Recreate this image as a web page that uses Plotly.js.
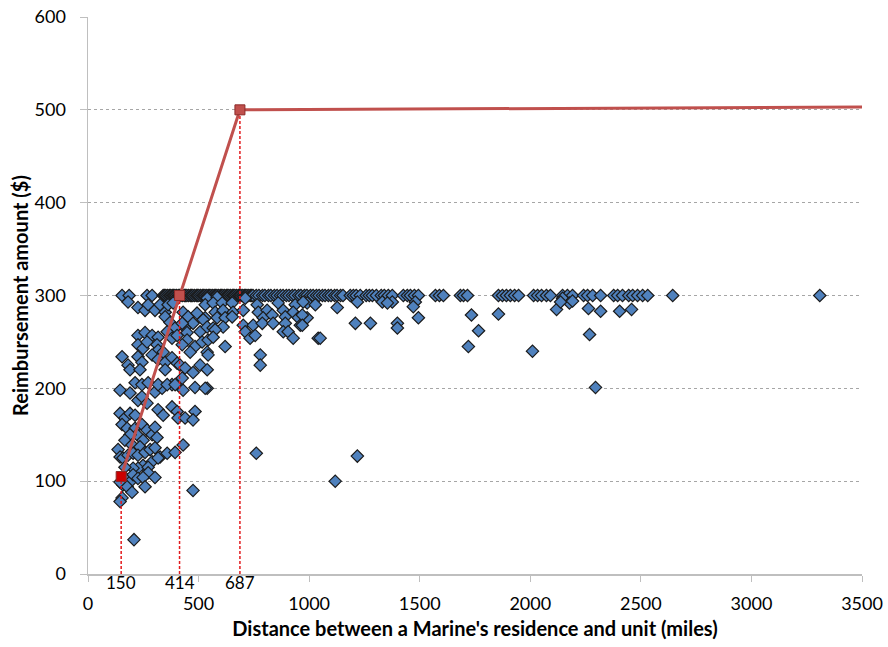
<!DOCTYPE html>
<html>
<head>
<meta charset="utf-8">
<script src="https://cdn.plot.ly/plotly-3.0.1.min.js"></script>
<style>html,body{margin:0;padding:0;background:#fff;}#chart{width:888px;height:647px;}</style>
</head>
<body>
<div id="chart"></div>
<script>
// Points that hit the $300 cap
const capDist = [154, 186, 267, 290,
  340, 346, 352, 360, 368, 374, 381, 387, 393, 400, 408, 414, 420, 428, 436, 441, 447, 455, 463, 468,
  474, 482, 490, 495, 501, 509, 517, 523, 529, 537, 544, 550, 556, 564, 571, 577, 583, 591, 599, 604,
  610, 618, 626, 631, 637, 645, 653, 658, 664, 672, 680, 686, 692, 700, 707, 713, 719, 727, 734, 740,
  746, 761, 773, 789, 800, 816, 827, 843, 855, 870,
  882, 897, 909, 924, 936, 952, 963, 979, 990, 1006, 1018, 1033, 1045, 1060, 1072, 1087, 1099, 1115,
  1126, 1142, 1153, 1186, 1200, 1213, 1231, 1258, 1272, 1286, 1304, 1326, 1340, 1358, 1376, 1426, 1444,
  1458, 1476, 1494, 1571, 1589, 1607, 1684, 1698, 1716, 1856, 1874, 1892, 1910, 1929, 1947, 2015, 2033,
  2051, 2073, 2091, 2146, 2168, 2191, 2241, 2259, 2282, 2318, 2377, 2395, 2417, 2445, 2463, 2485, 2508,
  2531, 2644, 3309];
const capAmt = capDist.map(() => 300);

// Points below the cap
const belowDist = [
  145, 167, 190, 213, 226, 244, 267, 303, 335, 380, 430, 539, 317, 340, 380, 403, 407, 439, 484, 475,
  154, 177, 213, 244, 267, 290, 303, 312, 222, 190, 167, 249, 199, 235, 136, 145, 158, 181, 204, 226,
  258, 281, 303, 326, 358, 394, 430, 290, 249, 226, 204, 167, 272, 317, 272, 167, 190, 158, 204, 145,
  177, 226, 249, 303, 258, 199, 154, 145, 475, 208, 761, 1118, 1218, 145, 190,
  181, 226, 258, 272, 303, 326, 349, 362, 385, 349, 371, 430, 453, 493, 530, 475, 439, 394, 426, 226,
  258, 290, 317, 358, 380, 403, 448, 507, 448, 426, 484, 462, 516, 543, 226, 249, 267, 312, 317, 290,
  340, 226, 244, 154, 181, 190, 235, 317, 349, 380, 403, 416, 349, 439, 475, 507, 539, 213, 244, 272,
  317, 358, 394, 426, 484, 530,
  539, 584, 530, 566, 607, 652, 711, 765, 860, 937, 991, 575, 611, 656, 702, 770, 810, 883, 928, 521,
  584, 620, 652, 792, 833, 892, 951, 991, 539, 566, 611, 702, 747, 788, 837, 892, 960, 575, 711, 883,
  905, 566, 733, 756, 928, 1041, 539, 620, 543, 779, 779,
  973, 1028, 1127, 1218, 1331, 1376, 1480, 1471, 1209, 1277, 1399, 1399, 1494, 969, 969, 1050,
  1354, 1734, 1766, 1720, 1856, 2010, 2119, 2146, 2177,
  2263, 2318, 2404, 2458, 2268, 2295, 2137, 2191];
const belowAmt = [
  173, 168, 173, 171, 187, 191, 184, 196, 200, 204, 198, 200, 177, 171, 180, 175, 168, 168, 175, 166,
  161, 157, 157, 161, 155, 150, 158, 147, 150, 150, 144, 144, 139, 137, 134, 126, 125, 128, 130, 128,
  131, 134, 136, 126, 130, 131, 139, 121, 117, 114, 114, 115, 115, 125, 109, 104, 99, 96, 107, 99,
  94, 103, 104, 104, 94, 88, 82, 78, 90, 37, 130, 100, 127, 198, 195,
  293, 287, 284, 290, 284, 290, 282, 290, 292, 277, 271, 282, 277, 281, 276, 270, 265, 265, 270, 257,
  260, 257, 255, 261, 254, 257, 260, 261, 252, 247, 245, 239, 250, 252, 247, 243, 250, 247, 241, 236,
  239, 234, 228, 234, 225, 220, 220, 231, 228, 233, 227, 225, 220, 222, 217, 225, 220, 206, 204, 206,
  204, 204, 204, 211, 201, 200,
  297, 298, 290, 292, 292, 292, 297, 290, 292, 290, 292, 282, 284, 282, 284, 282, 284, 284, 282, 274,
  276, 276, 277, 276, 279, 277, 276, 276, 266, 265, 266, 268, 268, 270, 270, 270, 268, 263, 261, 261,
  261, 255, 254, 257, 254, 254, 239, 245, 236, 236, 225,
  293, 290, 287, 293, 293, 293, 293, 288, 270, 270, 270, 265, 276, 279, 268, 254,
  292, 279, 262, 245, 280, 240, 285, 297, 292,
  286, 283, 283, 285, 258, 201, 293, 294];

// Reimbursement schedule (break points)
const schedDist = [150, 414, 687, 3500];
const schedAmt = [105, 300, 500, 503];
const markDist = [150, 414, 687];
const markAmt = [105, 300, 500];
const markLabels = ['150', '414', '687'];

const xTicks = [0, 500, 1000, 1500, 2000, 2500, 3000, 3500];
const yTicks = [0, 100, 200, 300, 400, 500, 600];

const FONT = 'Lato, "Open Sans", sans-serif';

const diamond = {
  symbol: 'diamond', size: 9.5, color: '#4F81BD',
  line: {color: '#1B1B1B', width: 1.2}
};

// dashed drop lines from each break point down to the x axis
const dropX = [], dropY = [];
markDist.forEach((d, i) => { dropX.push(d, d, null); dropY.push(0, markAmt[i], null); });

const traces = [
  {x: capDist, y: capAmt, type: 'scatter', mode: 'markers', marker: diamond, hoverinfo: 'x+y'},
  {x: belowDist, y: belowAmt, type: 'scatter', mode: 'markers', marker: diamond, hoverinfo: 'x+y'},
  {x: dropX, y: dropY, type: 'scatter', mode: 'lines',
   line: {color: '#E3191C', width: 1.5, dash: '3px,2px'}, hoverinfo: 'skip'},
  {x: schedDist, y: schedAmt, type: 'scatter', mode: 'lines',
   line: {color: '#C0504D', width: 3}, hoverinfo: 'skip'},
  {x: markDist, y: markAmt, type: 'scatter', mode: 'markers',
   marker: {symbol: 'square', size: 10, color: ['#CC0000', '#C0504D', '#C0504D'],
            line: {color: '#8C2A28', width: 1}}, hoverinfo: 'x+y'}
];

const layout = {
  width: 888, height: 647,
  margin: {l: 88, r: 26, t: 17, b: 73},
  paper_bgcolor: '#fff', plot_bgcolor: '#fff',
  showlegend: false,
  font: {family: FONT, color: '#000'},
  xaxis: {
    range: [0, 3500], tickvals: xTicks, ticktext: xTicks.map(String),
    showgrid: false, zeroline: false,
    showline: true, linecolor: '#BFBFBF', linewidth: 1.5,
    ticks: 'outside', ticklen: 6, tickcolor: '#BFBFBF', tickwidth: 1,
    ticklabelstandoff: 7,
    tickfont: {family: FONT, size: 18, color: '#000'},
    title: {text: "Distance between a Marine's residence and unit (miles)",
            font: {family: FONT, size: 20, color: '#000', weight: 'bold'}, standoff: 9},
    automargin: false
  },
  yaxis: {
    range: [0, 600], tickvals: yTicks, ticktext: yTicks.map(String),
    showgrid: true, gridcolor: '#A6A6A6', gridwidth: 1, griddash: '3px,3px',
    zeroline: false,
    showline: true, linecolor: '#BFBFBF', linewidth: 1.5,
    ticks: 'outside', ticklen: 7, tickcolor: '#BFBFBF', tickwidth: 1,
    ticklabelstandoff: 10,
    tickfont: {family: FONT, size: 18, color: '#000'},
    title: {text: 'Reimbursement amount ($)',
            font: {family: FONT, size: 20, color: '#000', weight: 'bold'}, standoff: 0},
    automargin: false
  },
  annotations: markDist.map((d, i) => ({
    x: d, y: 0, xref: 'x', yref: 'y', text: markLabels[i], showarrow: false,
    yanchor: 'top', yshift: 4, font: {family: FONT, size: 17, color: '#000'}
  }))
};

Plotly.newPlot('chart', traces, layout, {displayModeBar: false, staticPlot: true});
</script>
</body>
</html>
